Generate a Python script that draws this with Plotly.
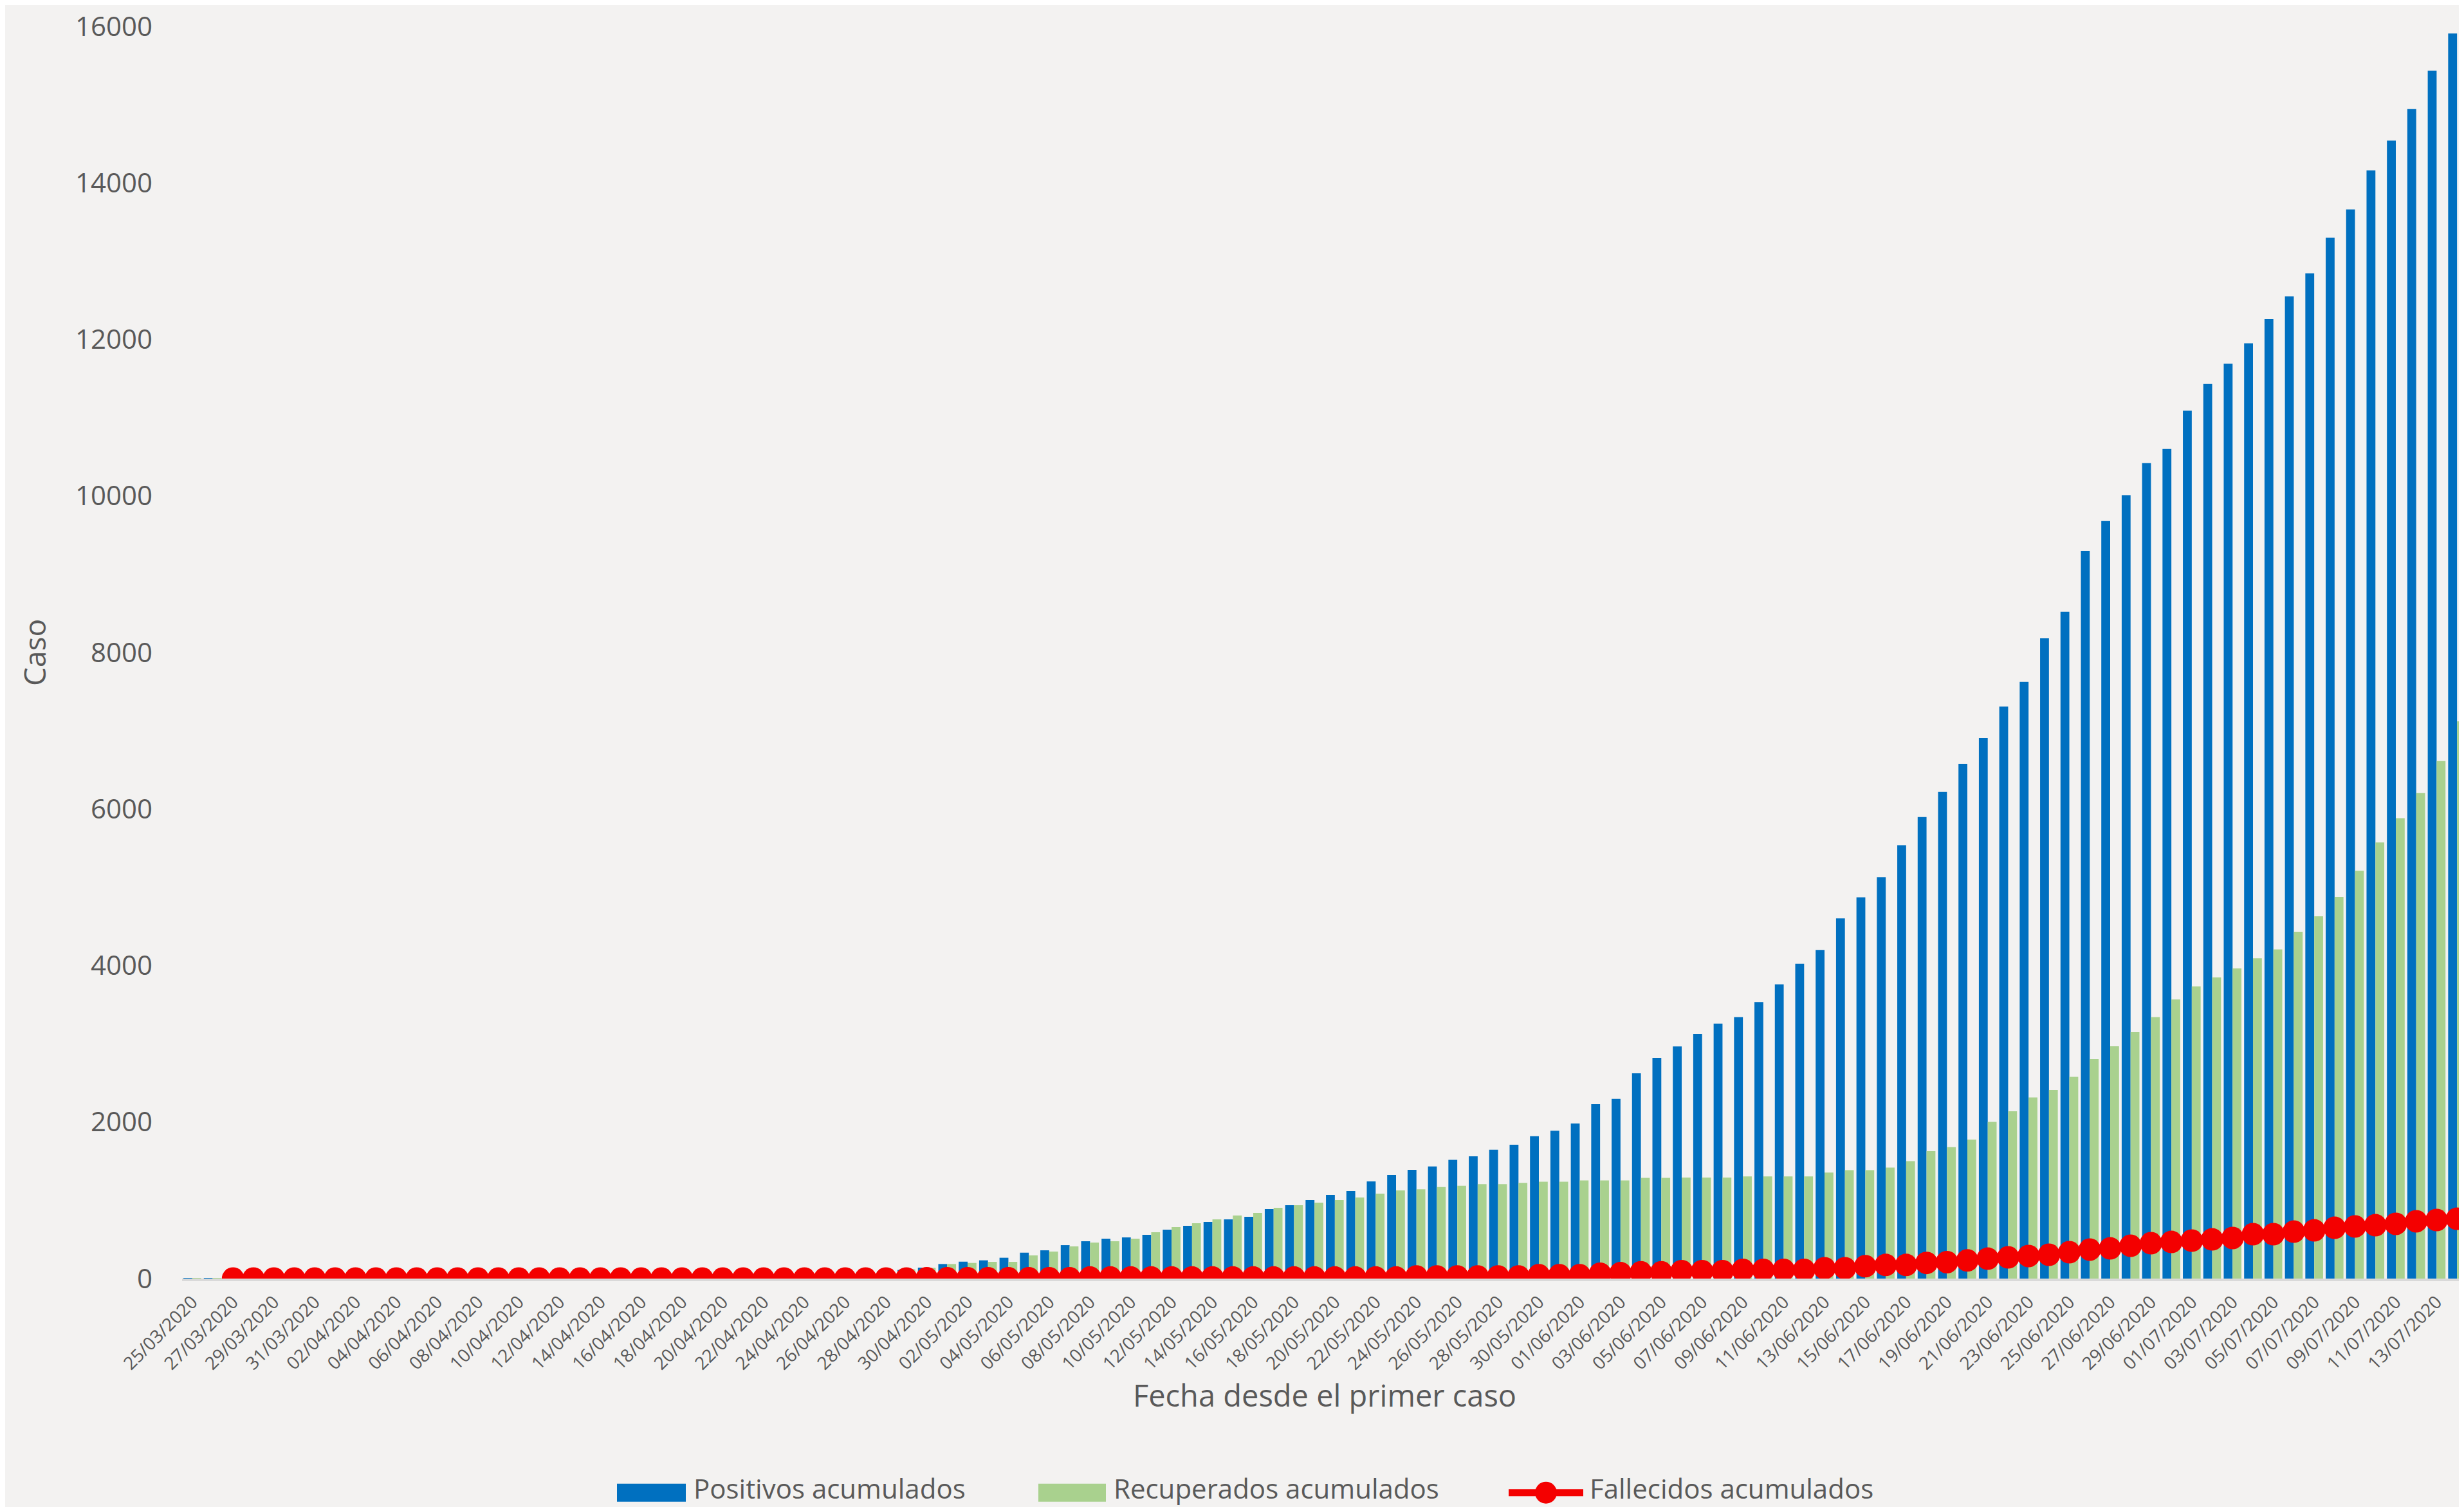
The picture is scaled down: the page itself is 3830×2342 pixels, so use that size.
import datetime as dt
import plotly.graph_objects as go

# Categories: one per day, 25/03/2020 .. 14/07/2020
inicio = dt.date(2020, 3, 25)
fechas = [(inicio + dt.timedelta(days=i)).strftime("%d/%m/%Y") for i in range(112)]
etiquetas = fechas[::2]

positivos = [
    3, 4, 6, 8, 10, 12, 14, 16, 18, 20, 22, 24, 26, 28, 30, 32, 34, 36, 38, 40,
    42, 44, 46, 48, 50, 52, 54, 56, 60, 64, 68, 72, 78, 86, 95, 110,
    140, 186, 216, 233, 266, 331, 361, 427, 477, 510, 526, 559, 625, 674, 723,
    756, 789, 888, 937, 1003, 1069, 1118, 1241, 1323, 1389,
    1432, 1516, 1563, 1647, 1710, 1820, 1888, 1982, 2229, 2297,
    2622, 2821, 2967, 3125, 3257, 3340, 3534, 3760, 4022, 4200,
    4603, 4871, 5129, 5537, 5898, 6218, 6578, 6906, 7310, 7623,
    8180, 8520, 9300, 9680, 10010, 10420, 10600, 11090, 11430, 11690,
    11950, 12260, 12550, 12845, 13300, 13660, 14160, 14540, 14945, 15435, 15910,
]

recuperados = [
    2, 3, 4, 5, 6, 7, 8, 9, 10, 11, 12, 13, 14, 15, 16, 17, 18, 19, 20, 21,
    22, 23, 24, 25, 26, 28, 30, 32, 35, 38, 42, 46, 52, 60, 80, 118,
    137, 186, 200, 214, 214, 296, 345, 411, 460, 477, 510, 592, 658, 707, 756,
    805, 838, 904, 937, 970, 1003, 1036, 1085, 1126, 1140,
    1170, 1186, 1207, 1207, 1222, 1238, 1238, 1254, 1254, 1254,
    1286, 1286, 1290, 1290, 1290, 1305, 1305, 1305, 1305, 1355,
    1386, 1386, 1418, 1500, 1628, 1679, 1775, 2003, 2137, 2314,
    2410, 2578, 2804, 2968, 3148, 3341, 3567, 3732, 3848, 3962,
    4093, 4205, 4432, 4628, 4876, 5211, 5573, 5883, 6206, 6613, 7120,
]

fallecidos = [
    None, None,
    0, 0, 0, 0, 0, 0, 0, 0, 0, 0, 0, 0, 0, 0, 0, 0, 0, 0, 0, 0,
    0, 0, 0, 0, 0, 0, 0, 0, 0, 0, 0, 0, 0, 0,
    4, 4, 4, 4, 4, 4, 4, 4,
    14, 14, 14, 14, 14, 14, 14, 14, 14, 14, 14, 14, 14, 14, 14, 14,
    27, 27, 27, 27, 27, 27,
    43, 43, 43, 62, 69, 80, 80, 95, 95, 95,
    111, 111, 111, 111, 132, 132, 158, 174, 174, 200,
    210, 232, 254, 271, 288, 304, 337, 370, 386, 419,
    452, 468, 485, 501, 518, 567, 567, 600, 616, 649,
    666, 682, 699, 732, 748, 764,
]

nombres = ["Positivos acumulados", "Recuperados acumulados", "Fallecidos acumulados"]

AZUL = "#0070C0"
VERDE = "#A9D18E"
ROJO = "#F40000"
TEXTO = "#595959"
FONDO = "#F3F2F1"
FUENTE = "Open Sans"

W, H = 3830, 2342
ML, MR, MT, MB = 275, 3, 31, 363
PW, PH = W - ML - MR, H - MT - MB


def px_x(p):
    return (p - ML) / PW


def px_y(p):
    return (H - MB - p) / PH


fig = go.Figure()
fig.add_trace(go.Bar(x=fechas, y=positivos, name=nombres[0], showlegend=False,
                     marker=dict(color=AZUL, line=dict(width=0))))
fig.add_trace(go.Bar(x=fechas, y=recuperados, name=nombres[1], showlegend=False,
                     marker=dict(color=VERDE, line=dict(width=0))))
fig.add_trace(go.Scatter(x=fechas, y=fallecidos, name=nombres[2], showlegend=False,
                         mode="lines+markers",
                         line=dict(color=ROJO, width=10),
                         marker=dict(color=ROJO, size=35)))

# Legend drawn below the plot (Excel-style wide swatches)
sw_y = 2312   # swatch centre (px from top)
tx_y = 2305   # text centre (px from top)
shapes = [
    dict(type="rect", xref="paper", yref="paper", x0=px_x(951), x1=px_x(1058),
         y0=px_y(sw_y + 14), y1=px_y(sw_y - 14), fillcolor=AZUL, line=dict(width=0)),
    dict(type="rect", xref="paper", yref="paper", x0=px_x(1606), x1=px_x(1711),
         y0=px_y(sw_y + 14), y1=px_y(sw_y - 14), fillcolor=VERDE, line=dict(width=0)),
    dict(type="line", xref="paper", yref="paper", x0=px_x(2337), x1=px_x(2453),
         y0=px_y(sw_y), y1=px_y(sw_y), line=dict(color=ROJO, width=11)),
    dict(type="circle", xref="paper", yref="paper", x0=px_x(2395 - 17), x1=px_x(2395 + 17),
         y0=px_y(sw_y + 17), y1=px_y(sw_y - 17), fillcolor=ROJO, line=dict(width=0)),
]
annotations = [
    dict(text=nombres[0], xref="paper", yref="paper", x=px_x(1068), y=px_y(tx_y),
         xanchor="left", yanchor="middle", showarrow=False, font=dict(size=42, color=TEXTO)),
    dict(text=nombres[1], xref="paper", yref="paper", x=px_x(1721), y=px_y(tx_y),
         xanchor="left", yanchor="middle", showarrow=False, font=dict(size=42, color=TEXTO)),
    dict(text=nombres[2], xref="paper", yref="paper", x=px_x(2461), y=px_y(tx_y),
         xanchor="left", yanchor="middle", showarrow=False, font=dict(size=42, color=TEXTO)),
]

fig.update_layout(
    width=W, height=H,
    margin=dict(l=ML, r=MR, t=MT, b=MB, pad=0),
    paper_bgcolor=FONDO, plot_bgcolor=FONDO,
    font=dict(family=FUENTE, color=TEXTO),
    barmode="group", bargap=0.13, bargroupgap=0,
    showlegend=False,
    shapes=shapes, annotations=annotations,
)
fig.update_xaxes(
    type="category", range=[-0.5, 111.5],
    tickmode="array", tickvals=etiquetas, ticktext=etiquetas,
    tickangle=-45, tickfont=dict(size=28, color=TEXTO),
    ticks="", ticklabelstandoff=5,
    showgrid=False, zeroline=False,
    showline=True, linecolor="#D9D9D9", linewidth=4,
    title=dict(text="Fecha desde el primer caso", font=dict(size=47, color=TEXTO), standoff=12),
)
fig.update_yaxes(
    range=[0, 16000], tickmode="linear", tick0=0, dtick=2000, tickformat="d",
    tickfont=dict(size=42, color=TEXTO), ticks="", ticklabelstandoff=45,
    ticklabeloverflow="allow",
    showgrid=False, zeroline=False, showline=False,
    title=dict(text="Caso", font=dict(size=46, color=TEXTO), standoff=30),
)

fig.write_html("out.html")
